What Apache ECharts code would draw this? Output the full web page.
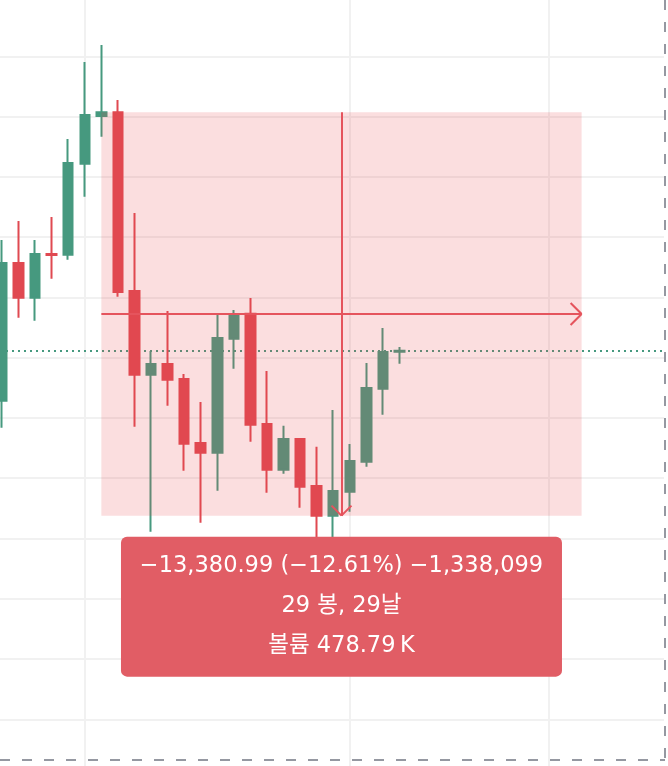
<!DOCTYPE html>
<html>
<head>
<meta charset="utf-8">
<script src="https://cdn.jsdelivr.net/npm/echarts@6/dist/echarts.min.js"></script>
<style>
  html, body { margin: 0; padding: 0; background: #ffffff; }
  #chart { width: 668px; height: 766px; }
</style>
</head>
<body>
<div id="chart"></div>
<script>
// ---- data (bar index on the daily axis) ----
const days   = [0, 1, 2, 3, 4, 5, 6, 7, 8, 9, 10, 11, 12, 13, 14, 15, 16, 17, 18, 19, 20, 21, 22, 23, 24];
const opens  = [96572, 101141, 99990, 101440, 101417, 104436, 106019, 106140, 100212, 97435, 97790, 97292, 95168, 94846, 98629, 99459, 95798, 94282, 95301, 93741, 92756, 93552, 94548, 96970, 98200];
const closes = [101141, 99990, 101440, 101410, 104459, 106052, 106140, 100179, 97435, 97790, 97269, 95145, 94846, 98652, 99425, 95775, 94282, 95301, 93718, 92756, 93575, 94571, 96993, 98188, 98230];
const lows   = [95676, 99326, 99226, 100620, 101251, 103341, 105332, 100023, 95709, 92225, 96406, 94249, 92523, 93585, 97634, 95211, 93519, 94149, 93021, 91949, 91684, 92888, 94382, 96107, 97799];
const highs  = [101904, 102535, 101904, 102667, 105256, 107811, 108375, 106550, 102800, 98221, 99548, 97458, 96529, 99425, 99581, 99980, 97557, 95742, 95334, 95045, 96263, 95135, 97823, 98984, 98354];

// vertical time grid lines (bar indices)
const timeGridDays = [5, 21, 33];

// measurement (date & price range) drawing
const rangeDays   = [6, 35];              // start bar, end bar
const rangePrices = [106140, 92759.01];   // start price, end price
const rangeCalendarDays = 29;
const rangeVolumeK = 478.79;

// ---- styles ----
const GREEN = '#46997f';
const RED = '#e04951';
const GRID = '#f1f1f1';
const FONT = "'DejaVu Sans', 'Noto Sans CJK KR', sans-serif";

const MINUS = '\u2212';
function fmt(v, digits) {
  const s = Math.abs(v).toLocaleString('en-US', { minimumFractionDigits: digits, maximumFractionDigits: digits });
  return (v < 0 ? MINUS : '') + s;
}

const diff = rangePrices[1] - rangePrices[0];
const pct = diff / rangePrices[0] * 100;
const ticks = Math.round(diff * 100);
const bars = rangeDays[1] - rangeDays[0];
const labelLines = [
  fmt(diff, 2) + ' (' + fmt(pct, 2) + '%) ' + fmt(ticks, 0),
  bars + ' 봉, ' + rangeCalendarDays + '날',
  '볼륨 ' + rangeVolumeK.toFixed(2) + '\u202fK'
];

const midDay = (rangeDays[0] + rangeDays[1]) / 2;
const midPrice = (rangePrices[0] + rangePrices[1]) / 2;

// pixel scale helpers for arrow heads (px -> data units)
const PX_PER_BAR = 16.56;
const PRICE_PER_PX = 33.183;
const headH = 11 / PX_PER_BAR, headHy = 11 * PRICE_PER_PX;
const headV = 10 / PX_PER_BAR, headVy = 10 * PRICE_PER_PX;

const chart = echarts.init(document.getElementById('chart'), null, { renderer: 'canvas' });

const seg = (a, b) => [{ coord: a }, { coord: b }];

const option = {
  animation: false,
  grid: { left: 0, right: 4, top: -3.97, height: 783.57, outerBoundsMode: 'none', containLabel: false },
  xAxis: {
    type: 'value',
    min: -0.1208,
    max: 39.976,
    show: false
  },
  yAxis: {
    type: 'value',
    min: 84000,
    max: 110000,
    interval: 2000,
    axisLine: { show: false },
    axisTick: { show: false },
    axisLabel: { show: false },
    splitLine: { show: true, lineStyle: { color: GRID, width: 2 } }
  },
  series: [
    {
      type: 'line',
      data: [],
      silent: true,
      markLine: {
        z: 1,
        silent: true,
        animation: false,
        symbol: ['none', 'none'],
        label: { show: false },
        emphasis: { disabled: true },
        data: timeGridDays.map(d => ({ xAxis: d, lineStyle: { color: GRID, width: 2, type: 'solid' } }))
          .concat([{ yAxis: closes[closes.length - 1], lineStyle: { color: GREEN, width: 2, type: [2, 4] } }])
      }
    },
    {
      type: 'candlestick',
      z: 2,
      silent: true,
      barWidth: 10,
      data: days.map((d, i) => [d, opens[i], closes[i], lows[i], highs[i]]),
      itemStyle: {
        color: GREEN,
        color0: RED,
        borderColor: GREEN,
        borderColor0: RED,
        borderWidth: 2
      }
    },
    {
      type: 'line',
      data: [],
      silent: true,
      markArea: {
        z: 3,
        silent: true,
        label: { show: false },
        itemStyle: { color: 'rgba(232,70,80,0.18)' },
        emphasis: { disabled: true },
        data: [[{ coord: [rangeDays[0], rangePrices[0]] }, { coord: [rangeDays[1], rangePrices[1]] }]]
      },
      markLine: {
        z: 4,
        silent: true,
        animation: false,
        symbol: ['none', 'none'],
        label: { show: false },
        emphasis: { disabled: true },
        lineStyle: { color: '#e5545d', width: 2, type: 'solid' },
        data: [
          seg([rangeDays[0], midPrice], [rangeDays[1], midPrice]),
          seg([rangeDays[1] - headH, midPrice + headHy], [rangeDays[1], midPrice]),
          seg([rangeDays[1] - headH, midPrice - headHy], [rangeDays[1], midPrice]),
          seg([midDay, rangePrices[0]], [midDay, rangePrices[1]]),
          seg([midDay - headV, rangePrices[1] + headVy], [midDay, rangePrices[1]]),
          seg([midDay + headV, rangePrices[1] + headVy], [midDay, rangePrices[1]])
        ]
      },
      markPoint: {
        z: 6,
        silent: true,
        animation: false,
        symbol: 'circle',
        symbolSize: 1,
        itemStyle: { color: 'rgba(0,0,0,0)' },
        data: [{
          coord: [midDay, rangePrices[1]],
          label: {
            show: true,
            position: 'inside',
            offset: [0, 91],
            formatter: labelLines.join('\n'),
            color: '#ffffff',
            fontFamily: FONT,
            fontSize: 22.5,
            lineHeight: 40,
            backgroundColor: '#e15d65',
            borderRadius: 6,
            width: 441,
            height: 120,
            padding: [16, 0, 4, 0],
            align: 'center',
            verticalAlign: 'middle'
          }
        }]
      }
    }
  ],
  graphic: [
    {
      type: 'line', z: 100, silent: true,
      shape: { x1: 665, y1: 0, x2: 665, y2: 760 },
      style: { stroke: '#9598a1', lineWidth: 2, lineDash: [10, 12] }
    },
    {
      type: 'line', z: 100, silent: true,
      shape: { x1: 0, y1: 760, x2: 665, y2: 760 },
      style: { stroke: '#9598a1', lineWidth: 2, lineDash: [10, 12] }
    }
  ]
};

chart.setOption(option);
</script>
</body>
</html>
